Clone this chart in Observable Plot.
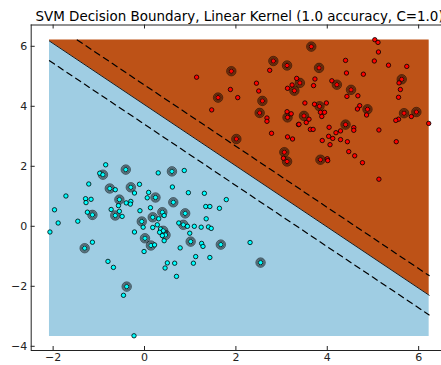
<!DOCTYPE html>
<html><head><meta charset="utf-8">
<script src="https://cdn.jsdelivr.net/npm/d3@7"></script>
<script src="https://cdn.jsdelivr.net/npm/@observablehq/plot@0.6"></script>
<style>html,body{margin:0;padding:0;background:#fff;overflow:hidden}svg{display:block}</style>
</head><body><div id="chart"></div>
<script>
const title = "SVM Decision Boundary, Linear Kernel (1.0 accuracy, C=1.0)";
const xTicks = [-2, 0, 2, 4, 6];
const yTicks = [-4, -2, 0, 2, 4, 6];
const xLim = [-2.48, 6.5];
const yLim = [-4.14, 6.71];
const meshX = [-2.08, 6.23];
const meshY = [-3.67, 6.21];
const weights = [1.557, 1.527];
const bias = -6.19;
// [x, y, isSupportVector]
const class0 = [
[-2.07,-0.19,0],[-1.97,0.55,0],[-1.89,0.11,0],[-1.72,1.01,0],[-1.46,0.17,0],[-1.22,1.41,0],[-1.29,0.92,0],[-1.28,0.79,0],[-1.17,0.90,0],[-1.25,0.47,0],
[-1.14,0.38,1],[-1.31,-0.73,1],[-1.14,-0.53,0],[-0.80,-1.17,0],[-0.68,-1.37,0],[-0.39,-2.01,1],[-0.46,-2.30,0],[-0.23,-3.65,0],[-0.98,1.77,0],[-0.91,1.72,1],
[-0.85,2.05,0],[-0.41,1.89,1],[-0.76,1.26,1],[-0.64,1.22,0],[-0.30,1.30,1],[-0.22,1.11,0],[-0.11,1.40,0],[-0.55,0.89,1],[-0.40,0.78,0],[-0.30,0.83,0],
[-0.31,0.74,0],[-0.57,0.69,0],[-0.73,0.56,0],[-0.55,0.50,0],[-0.64,0.36,1],[-0.49,0.33,0],[-0.10,0.52,0],[0.13,0.62,0],[0.09,1.13,0],[0.06,0.95,0],
[0.24,0.96,1],[0.61,1.31,0],[0.96,1.12,0],[1.31,1.10,0],[0.63,0.80,1],[1.34,0.66,0],[1.43,0.66,0],[1.64,0.60,0],[0.89,0.43,1],[0.39,0.47,1],
[0.43,0.36,0],[0.18,0.30,1],[0.31,0.25,0],[-0.06,0.16,1],[-0.03,-0.03,0],[-0.22,-0.19,0],[0.18,-0.04,0],[0.28,0.05,0],[0.35,-0.09,0],[0.41,-0.15,1],
[0.33,-0.20,0],[0.46,-0.29,1],[0.39,-0.31,0],[0.43,-0.48,0],[0.01,-0.40,1],[0.14,-0.64,1],[0.22,-0.62,0],[-0.01,-0.84,0],[0.75,0.11,0],[0.85,0.05,1],
[0.94,0.00,0],[1.09,0.00,0],[1.24,-0.03,0],[1.40,-0.02,0],[1.46,-0.07,0],[1.35,0.25,0],[0.99,-0.23,0],[1.01,-0.51,1],[1.25,-0.57,0],[1.28,-0.67,0],
[1.67,-0.61,1],[0.78,-0.72,0],[1.12,-1.01,0],[1.43,-1.04,0],[1.07,-1.23,0],[0.66,-1.23,0],[0.50,-1.22,0],[0.45,-1.39,0],[0.70,-1.67,0],[2.31,-0.54,0],
[2.54,-1.21,1],[1.79,0.89,0],[0.30,1.78,0],[0.60,1.83,1],[0.87,1.86,0]
];
const class1 = [
[1.14,4.97,0],[1.90,5.17,1],[2.82,5.51,1],[2.74,5.20,0],[2.45,4.77,0],[2.50,4.51,0],[1.88,4.56,0],[2.04,4.29,0],[1.61,4.29,1],[2.58,4.18,1],
[1.47,3.88,0],[2.52,3.78,1],[2.68,3.61,0],[2.68,3.50,0],[2.01,2.91,1],[3.12,5.36,1],[2.78,3.10,0],[3.13,2.98,0],[3.24,2.91,0],[3.06,2.47,1],
[3.04,2.27,0],[3.12,2.16,1],[3.33,4.93,0],[3.23,4.71,0],[3.40,4.78,1],[3.13,4.60,0],[3.28,4.52,1],[3.12,3.82,0],[3.21,3.75,0],[3.13,3.63,1],
[3.37,3.39,0],[3.82,5.28,1],[4.40,5.53,0],[4.42,5.11,0],[5.03,5.51,0],[5.34,5.37,0],[4.79,5.07,0],[5.12,5.81,0],[3.73,4.91,0],[3.70,4.69,0],
[4.10,4.85,0],[4.21,4.72,1],[4.52,4.55,1],[4.43,4.33,0],[4.67,4.35,0],[5.56,4.30,0],[5.60,4.56,0],[5.57,4.78,0],[3.51,4.11,0],[3.72,4.07,0],
[3.83,4.00,1],[3.98,4.11,0],[3.85,3.80,0],[3.94,3.80,0],[3.88,3.66,0],[4.71,4.02,0],[4.66,3.91,0],[4.88,3.90,1],[4.86,3.71,0],[5.56,3.57,0],
[5.50,3.53,0],[3.49,3.68,1],[3.38,3.40,0],[3.54,3.46,0],[3.60,3.57,0],[4.40,3.39,1],[4.29,3.18,0],[4.19,3.12,0],[4.04,3.30,0],[4.58,3.29,0],
[4.58,3.20,0],[3.63,3.23,0],[3.69,3.23,0],[5.13,3.21,0],[3.89,2.86,0],[4.03,3.00,0],[4.12,2.93,0],[4.06,2.72,0],[4.29,2.89,0],[4.44,2.82,0],
[5.51,2.82,0],[4.47,2.49,0],[4.60,2.35,0],[4.77,2.12,0],[3.85,2.22,1],[4.00,2.25,0],[4.01,2.19,0],[5.13,1.57,0],[3.65,5.99,1],[5.04,6.22,0],
[5.11,6.13,0],[5.74,5.33,0],[5.63,4.90,1],[5.68,3.77,1],[5.95,3.81,1],[5.84,3.66,0],[6.22,3.43,0]
];
const colors = {low: "#9fcde3", high: "#bd5217", c0: "#00ffff", c1: "#ff0000"};

// decision function helpers
const yAt = (level, x) => (level - bias - weights[0] * x) / weights[1];
const xAt = (level, y) => (level - bias - weights[1] * y) / weights[0];
function levelSegment(level) {
  const xa = Math.max(meshX[0], Math.min(xAt(level, meshY[0]), xAt(level, meshY[1])));
  const xb = Math.min(meshX[1], Math.max(xAt(level, meshY[0]), xAt(level, meshY[1])));
  return [xa, xb].map(x => ({x, y: yAt(level, x), level}));
}
const clampY = y => Math.max(meshY[0], Math.min(meshY[1], y));
const crossings = [xAt(0, meshY[0]), xAt(0, meshY[1])].filter(x => x > meshX[0] && x < meshX[1]);
const xs = [meshX[0], ...crossings, meshX[1]].sort((a, b) => a - b);
const band = xs.map(x => ({x, yb: clampY(yAt(0, x))}));

const W = 441, H = 365, mL = 30.7, mR = 0, mT = 24.5, mB = 15;
const innerW = W - mL - mR, innerH = H - mT - mB;
const pts0 = class0.map(([x, y, sv]) => ({x, y, sv}));
const pts1 = class1.map(([x, y, sv]) => ({x, y, sv}));
const svs = [...pts0, ...pts1].filter(d => d.sv);
const axisColor = "#222";

const chart = Plot.plot({
  width: W, height: H,
  marginLeft: mL, marginRight: mR, marginTop: mT, marginBottom: mB,
  x: {domain: xLim, label: null},
  y: {domain: yLim, label: null},
  style: {fontFamily: "DejaVu Sans", fontSize: "11px", color: axisColor, background: "#fff"},
  marks: [
    Plot.areaY(band, {x: "x", y1: () => meshY[0], y2: "yb", fill: colors.low}),
    Plot.areaY(band, {x: "x", y1: "yb", y2: () => meshY[1], fill: colors.high}),
    Plot.line(levelSegment(0), {x: "x", y: "y", stroke: "#1a1a1a", strokeWidth: 1}),
    Plot.line(levelSegment(-1), {x: "x", y: "y", stroke: "#000", strokeWidth: 1.2, strokeDasharray: "6,4.5"}),
    Plot.line(levelSegment(1), {x: "x", y: "y", stroke: "#000", strokeWidth: 1.2, strokeDasharray: "6,4.5"}),
    Plot.dot(svs, {x: "x", y: "y", r: 4, fill: "none", stroke: "#000", strokeOpacity: 0.35, strokeWidth: 1.6}),
    Plot.dot(svs, {x: "x", y: "y", r: 4.75, fill: "none", stroke: "#000", strokeOpacity: 0.75, strokeWidth: 0.6}),
    Plot.dot(svs, {x: "x", y: "y", r: 3.25, fill: "none", stroke: "#000", strokeOpacity: 0.75, strokeWidth: 0.6}),
    Plot.dot(pts0, {x: "x", y: "y", r: 2.2, fill: colors.c0, stroke: "#000", strokeWidth: 0.8}),
    Plot.dot(pts1, {x: "x", y: "y", r: 2.2, fill: colors.c1, stroke: "#000", strokeWidth: 0.8}),
    // frame (top, bottom, left)
    Plot.ruleY([yLim[0], yLim[1]], {stroke: axisColor, strokeWidth: 1}),
    Plot.ruleX([xLim[0]], {stroke: axisColor, strokeWidth: 1}),
    // inward ticks
    Plot.ruleX(xTicks, {x: d => d, insetTop: innerH - 4, stroke: axisColor}),
    Plot.ruleX(xTicks, {x: d => d, insetBottom: innerH - 4, stroke: axisColor}),
    Plot.ruleY(yTicks, {y: d => d, insetRight: innerW - 4, stroke: axisColor}),
    Plot.axisX(xTicks, {tickSize: 0, tickPadding: 3, fontSize: 11, fill: axisColor, label: null}),
    Plot.axisY(yTicks, {tickSize: 0, tickPadding: 4, fontSize: 11, fill: axisColor, label: null}),
    Plot.text([title], {text: d => d, frameAnchor: "top-left", dx: 35 - mL, dy: -4.5, lineAnchor: "bottom", textAnchor: "start", fontSize: 13.45, fill: "#000"})
  ]
});
document.getElementById("chart").append(chart);
</script>
</body></html>
